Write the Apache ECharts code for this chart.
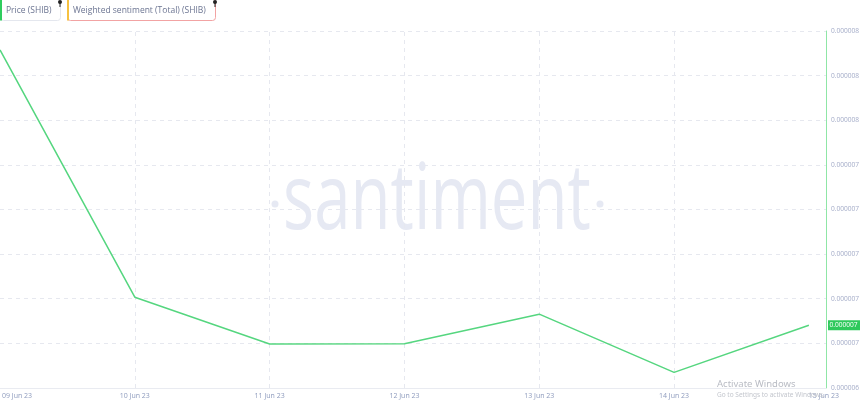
<!DOCTYPE html>
<html>
<head>
<meta charset="utf-8">
<script src="https://cdn.jsdelivr.net/npm/echarts@6/dist/echarts.min.js"></script>
<style>
html,body{margin:0;padding:0;background:#fff;}
#chart{width:860px;height:406px;}
</style>
</head>
<body>
<div id="chart"></div>
<script>
// ---- data ----
const dates = ['09 Jun 23', '10 Jun 23', '11 Jun 23', '12 Jun 23', '13 Jun 23', '14 Jun 23', '15 Jun 23'];
const price = [0.000007915, 0.000006807, 0.000006597, 0.000006598, 0.000006731, 0.000006470, 0.000006681];
const yMin = 0.0000064;
const yMax = 0.0000080;
const yStep = 0.0000002;
const legendNames = ['Price (SHIB)', 'Weighted sentiment (Total) (SHIB)'];

const FONT = 'Open Sans';
const chart = echarts.init(document.getElementById('chart'), null, {renderer: 'canvas'});

const seriesData = price.map((v, i) => [i, v]);
const vLines = dates.slice(1, dates.length - 1).map((d, i) => ({xAxis: i + 1}));

chart.setOption({
  animation: false,
  backgroundColor: '#ffffff',
  grid: {left: 0, right: 34, top: 31, bottom: 18, containLabel: false, outerBoundsMode: 'none'},
  xAxis: {
    type: 'value',
    min: 0,
    max: 6.127,
    interval: 1,
    axisLine: {show: true, onZero: false, lineStyle: {color: '#e9ebf1', width: 1}},
    axisTick: {show: false},
    splitLine: {show: false},
    axisLabel: {
      color: '#8e9bbd',
      fontSize: 7,
      fontFamily: FONT,
      margin: 4,
      alignMinLabel: 'left',
      showMaxLabel: true,
      formatter: function (v) {
        if (Math.abs(v - Math.round(v)) > 1e-6) return '';
        const i = Math.round(v);
        if (i === 0) return '{l|' + dates[i] + '}';
        if (i === dates.length - 1) return '{r|' + dates[i] + '}';
        return dates[i] || '';
      },
      rich: {
        l: {color: '#8e9bbd', fontSize: 7, fontFamily: FONT, padding: [0, 0, 0, 2]},
        r: {color: '#8e9bbd', fontSize: 7, fontFamily: FONT, padding: [0, 0, 0, 30]}
      }
    }
  },
  yAxis: {
    type: 'value',
    position: 'right',
    min: yMin,
    max: yMax,
    interval: yStep,
    axisLine: {show: true, onZero: false, lineStyle: {color: '#8fe6a6', width: 1}},
    axisTick: {show: false},
    splitLine: {show: true, lineStyle: {color: '#e6e8ef', type: [4, 4], width: 1}},
    axisLabel: {
      color: '#a4acc8',
      fontSize: 6.6,
      fontFamily: FONT,
      margin: 5,
      formatter: function (v) { return v.toFixed(6); }
    }
  },
  series: [{
    type: 'line',
    name: legendNames[0],
    data: seriesData,
    showSymbol: false,
    lineStyle: {color: '#55d67f', width: 1.5},
    itemStyle: {color: '#55d67f'},
    z: 5,
    markLine: {
      silent: true,
      symbol: ['none', 'none'],
      label: {show: false},
      lineStyle: {color: '#e6e8ef', type: [4, 4], width: 1},
      data: vLines,
      z: 1
    }
  }]
});

// computed positions from library scales
const last = chart.convertToPixel({gridIndex: 0}, [price.length - 1, price[price.length - 1]]);
const axisX = chart.convertToPixel({gridIndex: 0}, [6.127, yMin])[0];

chart.setOption({
  graphic: [
    // watermark
    {
      type: 'text', x: 437, y: 249, scaleX: 0.71, silent: true, z: 0,
      style: {text: 'santiment', fontSize: 92, fontFamily: FONT, fill: '#e6e9f3',
        textAlign: 'center', textVerticalAlign: 'bottom', verticalAlign: 'bottom'}
    },
    {type: 'circle', shape: {cx: 275, cy: 204, r: 3.5}, style: {fill: '#e6e9f3'}, silent: true, z: 0},
    {type: 'circle', shape: {cx: 600, cy: 204, r: 3.5}, style: {fill: '#e6e9f3'}, silent: true, z: 0},
    // legend box 1
    {type: 'rect', shape: {x: 0.5, y: -4, width: 60, height: 24.5, r: 3}, style: {fill: '#fff', stroke: '#e4e7ee', lineWidth: 1}, z: 10},
    {type: 'rect', shape: {x: 0, y: -4, width: 2, height: 24.5}, style: {fill: '#2fcd5e'}, z: 11},
    {type: 'text', x: 6, y: 11, style: {text: legendNames[0], fontSize: 8.5, fontFamily: FONT, fill: '#6c7592', textVerticalAlign: 'middle', verticalAlign: 'middle'}, z: 11},
    {type: 'circle', shape: {cx: 60, cy: 2, r: 2}, style: {fill: '#222'}, z: 12},
    {type: 'rect', shape: {x: 59.5, y: 3, width: 1, height: 4}, style: {fill: '#222'}, z: 12},
    // legend box 2
    {type: 'rect', shape: {x: 67.5, y: -4, width: 148, height: 24.5, r: 3}, style: {fill: '#fff', stroke: '#f2a3a3', lineWidth: 1}, z: 10},
    {type: 'rect', shape: {x: 67, y: -4, width: 2, height: 24.5}, style: {fill: '#f6c140'}, z: 11},
    {type: 'text', x: 73, y: 11, style: {text: legendNames[1], fontSize: 8.5, fontFamily: FONT, fill: '#6c7592', textVerticalAlign: 'middle', verticalAlign: 'middle'}, z: 11},
    {type: 'circle', shape: {cx: 215, cy: 2, r: 2}, style: {fill: '#222'}, z: 12},
    {type: 'rect', shape: {x: 214.5, y: 3, width: 1, height: 4}, style: {fill: '#222'}, z: 12},
    // last price tag
    {type: 'rect', shape: {x: axisX + 2, y: last[1] - 5, width: 34, height: 10}, style: {fill: '#2fc95c'}, z: 20},
    {type: 'text', x: axisX + 3.5, y: last[1], style: {text: price[price.length - 1].toFixed(6), fontSize: 6.6, fontFamily: FONT, fill: '#ffffff', textVerticalAlign: 'middle', verticalAlign: 'middle'}, z: 21},
    // OS overlay text present in the screenshot
    {type: 'text', x: 717, y: 384, style: {text: 'Activate Windows', fontSize: 9.5, fontFamily: 'Noto Sans', fill: '#b9bcc4', textVerticalAlign: 'middle', verticalAlign: 'middle'}, z: 30},
    {type: 'text', x: 717, y: 395, style: {text: 'Go to Settings to activate Windows.', fontSize: 6.5, fontFamily: 'Noto Sans', fill: '#c3c6cd', textVerticalAlign: 'middle', verticalAlign: 'middle'}, z: 1}
  ]
});
</script>
</body>
</html>
